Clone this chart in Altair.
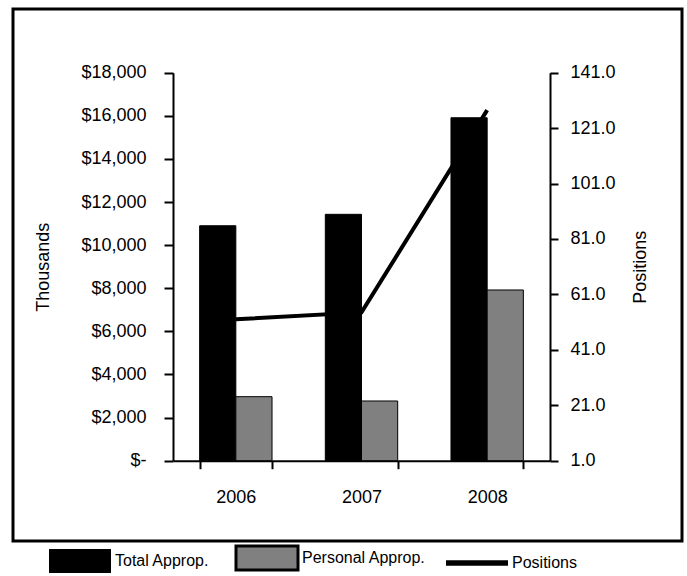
import altair as alt
import pandas as pd

# ---- data ----
years = ["2006", "2007", "2008"]
total_approp = [10900, 11430, 15910]
personal_approp = [2970, 2770, 7920]
positions = [52.0, 54.5, 127.5]
series_names = ["Total Approp.", "Personal Approp.", "Positions"]
left_ticks = [0, 2000, 4000, 6000, 8000, 10000, 12000, 14000, 16000, 18000]
right_ticks = [1, 21, 41, 61, 81, 101, 121, 141]

bar_df = pd.DataFrame({
    "year": years * 2,
    "series": [series_names[0]] * 3 + [series_names[1]] * 3,
    "value": total_approp + personal_approp,
})
line_df = pd.DataFrame({"year": years, "positions": positions})

FONT = "Liberation Sans, Arial, sans-serif"
FS = 18
W, H = 669, 532
X0, X1 = 160, 537
YB, YT = 451.7, 63.7

x_scale = alt.Scale(domain=years, range=[X0, X1], paddingInner=0.424, paddingOuter=0.212)

axis_common = dict(
    domainColor="black", domainWidth=2, tickColor="black", tickWidth=2,
    labelFont=FONT, labelFontSize=FS, labelColor="black",
    titleFont=FONT, titleFontSize=FS, titleColor="black", titleFontWeight="normal",
    grid=False,
)

bars = alt.Chart(bar_df).mark_bar(stroke="black", strokeWidth=1).encode(
    x=alt.X("year:N", scale=x_scale, title=None,
            axis=alt.Axis(orient="bottom", offset=-(H - YB), tickBand="extent",
                          tickSize=8, labelPadding=20, labelAngle=0, **axis_common)),
    xOffset=alt.XOffset("series:N", sort=series_names[:2],
                        scale=alt.Scale(domain=series_names[:2])),
    y=alt.Y("value:Q",
            scale=alt.Scale(domain=[0, 18000], range=[YB, YT], nice=False, zero=True),
            axis=alt.Axis(orient="left", offset=-X0, values=left_ticks, tickSize=9,
                          labelPadding=18, title="Thousands", titlePadding=28,
                          labelExpr="datum.value == 0 ? '$-' : '$' + format(datum.value, ',')",
                          **axis_common)),
    fill=alt.Fill("series:N",
                  scale=alt.Scale(domain=series_names, range=["black", "#808080", "black"]),
                  legend=alt.Legend(
                      title=None, orient="none", legendX=59, legendY=541,
                      direction="horizontal",
                      symbolType=alt.ExprRef(expr="datum.value === 'Positions' ? 'M-1,-0.09H1V0.09H-1Z' : 'M-1,-0.387H1V0.387H-1Z'"),
                      symbolSize=3844,
                      symbolStrokeColor="black",
                      symbolStrokeWidth=alt.ExprRef(expr="datum.value === 'Personal Approp.' ? 3 : 0"),
                      symbolOpacity=1,
                      labelFont=FONT, labelFontSize=16, labelColor="black",
                      labelOffset=27, columnPadding=20,
                  )),
)

line = alt.Chart(line_df).mark_line(color="black", strokeWidth=4).encode(
    x=alt.X("year:N", scale=x_scale),
    y=alt.Y("positions:Q",
            scale=alt.Scale(domain=[1, 141], range=[YB, YT], nice=False, zero=False),
            axis=alt.Axis(orient="right", offset=-(W - X1), values=right_ticks, format=".1f",
                          tickSize=8, labelPadding=12, title="Positions", titleAngle=270,
                          titleBaseline="top", titlePadding=16, **axis_common)),
)

chart = alt.layer(bars, line).resolve_scale(y="independent").properties(
    width=W, height=H,
    background="white",
    autosize=alt.AutoSizeParams(type="none"),
    padding={"left": 13, "top": 9, "right": 5, "bottom": 35},
).configure_view(stroke="black", strokeWidth=3)

chart.save("out.html", embed_options={"renderer": "svg", "actions": False})
